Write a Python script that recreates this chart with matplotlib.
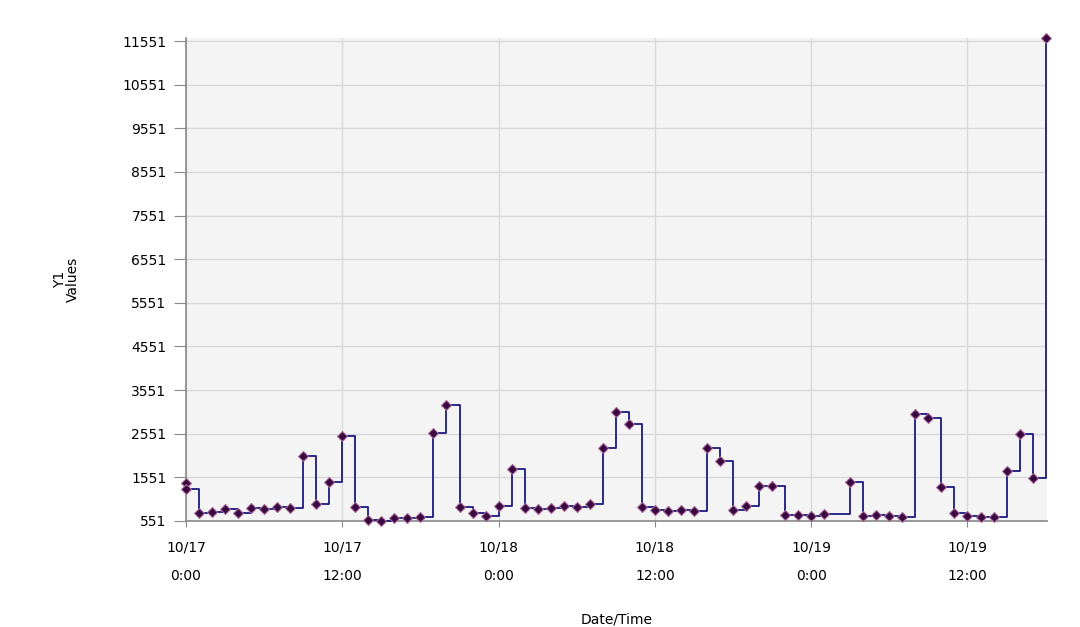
import matplotlib
matplotlib.use("Agg")
import matplotlib.pyplot as plt
import matplotlib.dates as mdates
import pandas as pd

# hours after 10/17 0:00 and the Y1 readings
hours = [0, 0, 1, 2, 3, 4, 5, 6, 7, 8, 9, 10, 11, 12, 13, 14, 15, 16, 17, 18,
         19, 20, 21, 22, 23, 24, 25, 26, 27, 28, 29, 30, 31, 32, 33, 34, 35,
         36, 37, 38, 39, 40, 41, 42, 43, 44, 45, 46, 47, 48, 49, 51, 52, 53,
         54, 55, 56, 57, 58, 59, 60, 61, 62, 63, 64, 65, 66]
values = [1420, 1290, 741, 764, 818, 741, 841, 818, 878, 841, 2038, 940, 1450,
          2495, 878, 574, 540, 612, 612, 636, 2570, 3204, 864, 727, 672, 901,
          1733, 841, 825, 856, 894, 878, 933, 2227, 3051, 2769, 878, 803, 787,
          803, 787, 2214, 1930, 803, 894, 1351, 1351, 688, 688, 672, 704, 1436,
          665, 688, 665, 649, 2998, 2900, 1336, 741, 665, 636, 649, 1701, 2534,
          1528, 11620]
y_ticks = list(range(551, 11552, 1000))

start = pd.Timestamp("2012-10-17 00:00")
times = [start + pd.Timedelta(hours=h) for h in hours]

plt.rcParams['font.family'] = ['DejaVu Sans']
fig = plt.figure(figsize=(10.8, 6.27), dpi=100)
ax = fig.add_axes([0.1722, 0.1691, 0.7972, 0.7703])
ax.set_facecolor('#f4f4f4')

ax.step(times, values, where='post', color='#1a1a80', lw=1.3, clip_on=False, zorder=3)
ax.plot(times, values, ls='none', marker='D', ms=5, mfc='#380840',
        mec='#a86a98', mew=0.8, clip_on=False, zorder=4)

ax.set_xlim(start, start + pd.Timedelta(hours=66.1))
ax.set_ylim(551, 11620)
ax.set_yticks(y_ticks)
ax.set_yticklabels([str(v) for v in y_ticks])

ax.xaxis.set_major_locator(mdates.HourLocator(byhour=[0, 12]))
ax.xaxis.set_major_formatter(plt.FuncFormatter(
    lambda x, pos: mdates.num2date(x).strftime('%m/%d') + '\n' +
    str(mdates.num2date(x).hour) + ':00'))

ax.grid(True, color='#d9d9d9', lw=1)
ax.set_axisbelow(True)
for s in ['top', 'right']:
    ax.spines[s].set_visible(False)
for s in ['left', 'bottom']:
    ax.spines[s].set_color('#8a8a8a')
    ax.spines[s].set_linewidth(1.2)

ax.tick_params(axis='y', length=9, color='#8a8a8a', labelsize=10, pad=5)
ax.tick_params(axis='x', length=4, color='#8a8a8a', labelsize=10, pad=10)
for lab in ax.get_xticklabels():
    lab.set_linespacing(2.3)

ax.set_xlabel('Date/Time', fontsize=10)
ax.xaxis.set_label_coords(0.5, -0.19)
ax.set_ylabel('Y1\nValues', fontsize=10, linespacing=0.9)
ax.yaxis.set_label_coords(-0.123, 0.5)

fig.savefig('out.png', dpi=100)
